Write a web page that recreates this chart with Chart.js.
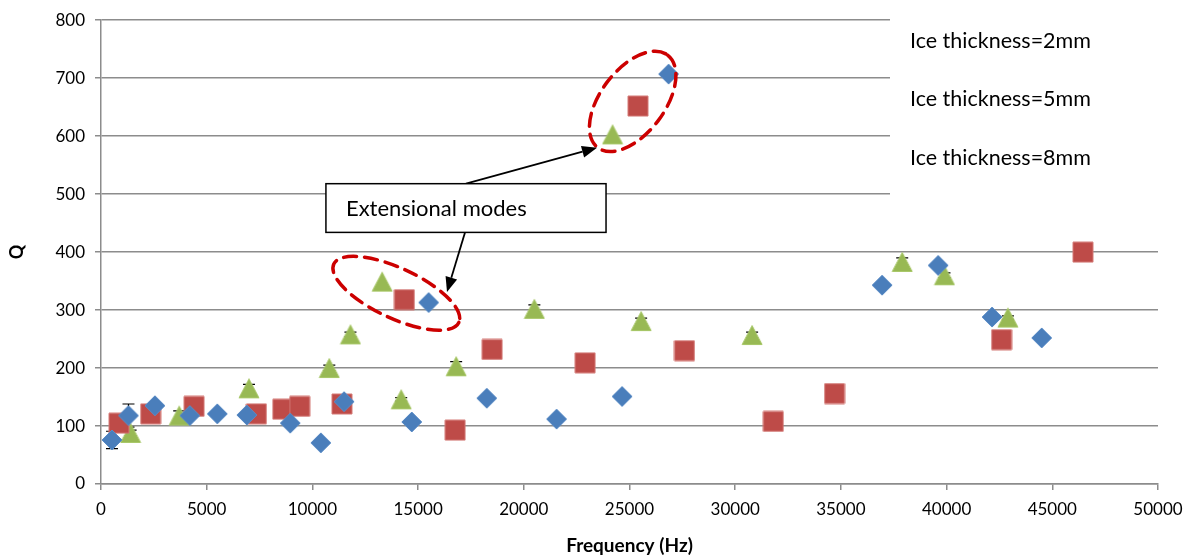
<!DOCTYPE html>
<html>
<head>
<meta charset="utf-8">
<script src="https://cdn.jsdelivr.net/npm/chart.js@4.4.0/dist/chart.umd.min.js"></script>
<style>
  html, body { margin: 0; padding: 0; background: #fff; }
  #wrap { width: 1197px; height: 559px; position: relative; }
</style>
</head>
<body>
<div id="wrap"><canvas id="qChart"></canvas></div>
<script>
// Ice thickness = 2mm (blue diamonds)
const freq2mm = [520, 1300, 2550, 4200, 5500, 6900, 8950, 10400, 11500, 14700, 15500, 18250, 21550, 24650, 26850, 36950, 39600, 42150, 44500];
const q2mm = [76, 118, 135, 118, 121, 119, 105, 71, 142, 107, 313, 148, 112, 151, 707, 343, 377, 288, 252];
const err2mm = [15, 20, 0, 0, 0, 0, 0, 0, 0, 0, 0, 0, 0, 0, 0, 0, 0, 0, 0];

// Ice thickness = 5mm (red squares)
const freq5mm = [850, 2350, 4400, 7350, 8600, 9400, 11400, 14350, 16750, 18500, 22900, 25400, 27600, 31800, 34700, 42600, 46450];
const q5mm = [105, 121, 134, 121, 129, 134, 138, 318, 93, 232, 209, 652, 230, 108, 156, 249, 400];
const err5mm = [0, 0, 0, 0, 0, 0, 0, 0, 0, 0, 0, 0, 0, 0, 0, 0, 0];

// Ice thickness = 8mm (green triangles)
const freq8mm = [1400, 3700, 7000, 10800, 11800, 13300, 14200, 16800, 20500, 24200, 25550, 30800, 37900, 39900, 42900];
const q8mm = [88, 118, 165, 200, 258, 349, 146, 203, 302, 603, 281, 257, 383, 360, 287];
const err8mm = [5, 8, 7, 5, 4, 0, 3, 8, 7, 0, 5, 5, 7, 4, 3];

const seriesLabels = ["Ice thickness=2mm", "Ice thickness=5mm", "Ice thickness=8mm"];
const xTicks = [0, 5000, 10000, 15000, 20000, 25000, 30000, 35000, 40000, 45000, 50000];
const yTicks = [0, 100, 200, 300, 400, 500, 600, 700, 800];

const gridColor = "#8c8c8c";
const textFont = "Lato";

function makeMarker(shape, fill, stroke) {
  const c = document.createElement("canvas");
  c.width = 22;
  c.height = 22;
  const g = c.getContext("2d");
  g.beginPath();
  if (shape === "diamond") {
    g.moveTo(11, 1); g.lineTo(21, 11); g.lineTo(11, 21); g.lineTo(1, 11);
  } else if (shape === "square") {
    g.rect(1, 1, 20, 20);
  } else {
    g.moveTo(11, 1.5); g.lineTo(21, 20.5); g.lineTo(1, 20.5);
  }
  g.closePath();
  g.fillStyle = fill;
  g.fill();
  g.strokeStyle = stroke;
  g.lineWidth = 1;
  g.stroke();
  return c;
}

function toPoints(xs, ys) {
  return xs.map((x, i) => ({ x: x, y: ys[i] }));
}

// Error bars, drawn under the markers
const errorBars = {
  id: "errorBars",
  beforeDatasetsDraw(chart) {
    const ctx = chart.ctx;
    const xs = chart.scales.x, ys = chart.scales.y;
    ctx.save();
    ctx.strokeStyle = "#000";
    ctx.lineWidth = 1.2;
    chart.data.datasets.forEach((ds) => {
      ds.data.forEach((p, i) => {
        const e = ds.errors[i];
        if (!e) return;
        const px = xs.getPixelForValue(p.x);
        const top = ys.getPixelForValue(p.y + e);
        const bot = ys.getPixelForValue(p.y - e);
        ctx.beginPath();
        ctx.moveTo(px, top); ctx.lineTo(px, bot);
        ctx.moveTo(px - 6, top); ctx.lineTo(px + 6, top);
        ctx.moveTo(px - 6, bot); ctx.lineTo(px + 6, bot);
        ctx.stroke();
      });
    });
    ctx.restore();
  },
};

// Callouts placed in data coordinates
const ellipses = [
  { x: 25150, y: 660, rx: 58, ry: 32, rot: -53 },
  { x: 13970, y: 329, rx: 69, ry: 25, rot: 25 },
];
const calloutBox = { x1: 10640, x2: 23890, y1: 518, y2: 434, text: "Extensional modes" };
const arrows = [
  { from: [17266, 518], to: [23463, 580] },
  { from: [17218, 434], to: [16367, 331] },
];

const overlays = {
  id: "overlays",
  afterDatasetsDraw(chart) {
    const ctx = chart.ctx;
    const xs = chart.scales.x, ys = chart.scales.y;
    const area = chart.chartArea;
    ctx.save();

    // dashed ellipses
    ctx.strokeStyle = "#cc0000";
    ctx.lineWidth = 3.5;
    ctx.setLineDash([13, 8]);
    ctx.lineCap = "round";
    ellipses.forEach((el) => {
      ctx.beginPath();
      ctx.ellipse(xs.getPixelForValue(el.x), ys.getPixelForValue(el.y), el.rx, el.ry, el.rot * Math.PI / 180, 0, Math.PI * 2);
      ctx.stroke();
    });
    ctx.setLineDash([]);
    ctx.lineCap = "butt";

    // arrows
    ctx.strokeStyle = "#000";
    ctx.fillStyle = "#000";
    ctx.lineWidth = 1.8;
    arrows.forEach((a) => {
      const x0 = xs.getPixelForValue(a.from[0]), y0 = ys.getPixelForValue(a.from[1]);
      const x1 = xs.getPixelForValue(a.to[0]), y1 = ys.getPixelForValue(a.to[1]);
      const ang = Math.atan2(y1 - y0, x1 - x0);
      const len = 15, half = 6;
      const bx = x1 - Math.cos(ang) * len, by = y1 - Math.sin(ang) * len;
      ctx.beginPath();
      ctx.moveTo(x0, y0);
      ctx.lineTo(bx, by);
      ctx.stroke();
      ctx.beginPath();
      ctx.moveTo(x1, y1);
      ctx.lineTo(bx + Math.sin(ang) * half, by - Math.cos(ang) * half);
      ctx.lineTo(bx - Math.sin(ang) * half, by + Math.cos(ang) * half);
      ctx.closePath();
      ctx.fill();
    });

    // callout box
    const bx1 = xs.getPixelForValue(calloutBox.x1), bx2 = xs.getPixelForValue(calloutBox.x2);
    const by1 = ys.getPixelForValue(calloutBox.y1), by2 = ys.getPixelForValue(calloutBox.y2);
    ctx.fillStyle = "#fff";
    ctx.fillRect(bx1, by1, bx2 - bx1, by2 - by1);
    ctx.lineWidth = 1.5;
    ctx.strokeRect(bx1, by1, bx2 - bx1, by2 - by1);
    ctx.fillStyle = "#000";
    ctx.font = "22px " + textFont;
    ctx.textBaseline = "middle";
    ctx.textAlign = "left";
    ctx.fillText(calloutBox.text, bx1 + 20, (by1 + by2) / 2 + 1);

    // legend (text only, on a white panel over the grid)
    ctx.fillStyle = "#fff";
    ctx.fillRect(area.right - 268, 0, chart.width - area.right + 268, 200);
    ctx.fillStyle = "#000";
    ctx.font = "21.5px " + textFont;
    chart.data.datasets.forEach((ds, i) => {
      ctx.fillText(ds.label, area.right - 248, 41 + i * 58.5);
    });
    ctx.restore();
  },
};

const ctx = document.getElementById("qChart").getContext("2d");
new Chart(ctx, {
  type: "scatter",
  data: {
    datasets: [
      {
        label: seriesLabels[0],
        data: toPoints(freq2mm, q2mm),
        errors: err2mm,
        pointStyle: makeMarker("diamond", "#4a7ebb", "#5b8cc6"),
        pointRadius: 10,
      },
      {
        label: seriesLabels[1],
        data: toPoints(freq5mm, q5mm),
        errors: err5mm,
        pointStyle: makeMarker("square", "#be4b48", "#d47a77"),
        pointRadius: 10,
      },
      {
        label: seriesLabels[2],
        data: toPoints(freq8mm, q8mm),
        errors: err8mm,
        pointStyle: makeMarker("triangle", "#98b954", "#a9c86a"),
        pointRadius: 10,
      },
    ],
  },
  options: {
    responsive: true,
    maintainAspectRatio: false,
    animation: false,
    layout: { padding: { top: 18, right: 39, left: 0, bottom: 0 } },
    plugins: {
      legend: { display: false },
      tooltip: { enabled: false },
    },
    scales: {
      x: {
        type: "linear",
        min: 0,
        max: 50000,
        afterBuildTicks: (scale) => {
          scale.ticks = xTicks.map((v) => ({ value: v }));
        },
        afterFit: (scale) => {
          scale.height = 75;
        },
        ticks: {
          color: "#000",
          font: { family: textFont, size: 17 },
          padding: 9,
          maxRotation: 0,
          callback: (v) => String(v),
        },
        grid: { drawOnChartArea: false, drawTicks: true, tickLength: 6, color: gridColor, lineWidth: 1.5 },
        border: { color: gridColor, width: 1.5 },
        title: {
          display: true,
          text: "Frequency (Hz)",
          color: "#000",
          font: { family: textFont, size: 19, weight: "bold" },
          padding: { top: 0, bottom: 2 },
        },
      },
      y: {
        type: "linear",
        min: 0,
        max: 800,
        afterBuildTicks: (scale) => {
          scale.ticks = yTicks.map((v) => ({ value: v }));
        },
        afterFit: (scale) => {
          scale.width = 101;
        },
        ticks: {
          color: "#000",
          font: { family: textFont, size: 17 },
          padding: 10,
        },
        grid: { color: gridColor, lineWidth: 1.5, tickLength: 6 },
        border: { color: gridColor, width: 1.5 },
        title: {
          display: true,
          text: "Q",
          color: "#000",
          font: { family: textFont, size: 18, weight: "bold" },
          padding: { top: 6, bottom: 0 },
        },
      },
    },
  },
  plugins: [errorBars, overlays],
});
</script>
</body>
</html>
